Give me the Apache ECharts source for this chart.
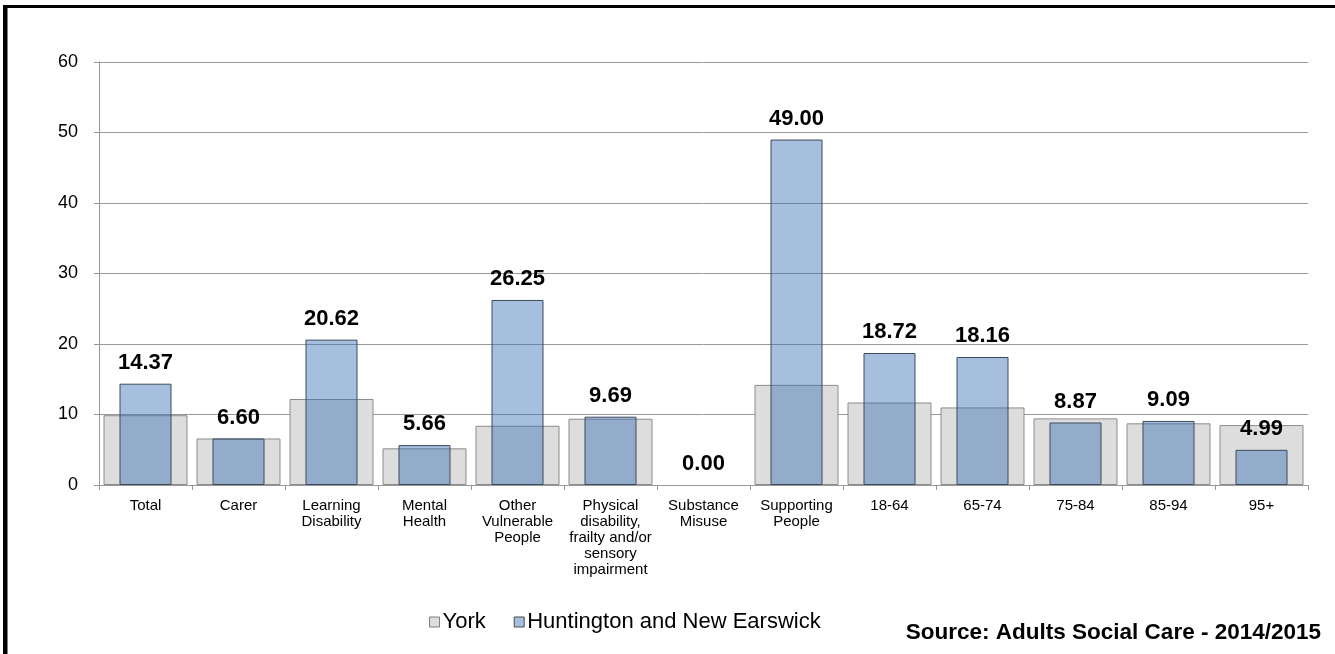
<!DOCTYPE html>
<html><head><meta charset="utf-8">
<script src="https://cdn.jsdelivr.net/npm/echarts@6/dist/echarts.min.js"></script>
<style>html,body{margin:0;padding:0;background:#fff}#c{width:1335px;height:654px}</style>
</head><body><div id="c"></div>
<script>
const categories = ['Total','Carer','Learning\nDisability','Mental\nHealth','Other\nVulnerable\nPeople','Physical\ndisability,\nfrailty and/or\nsensory\nimpairment','Substance\nMisuse','Supporting\nPeople','18-64','65-74','75-84','85-94','95+'];
const yorkValues = [9.9, 6.6, 12.2, 5.2, 8.4, 9.4, 0, 14.2, 11.7, 11.0, 9.45, 8.75, 8.5];
const huntValues = [14.37, 6.60, 20.62, 5.66, 26.25, 9.69, 0.00, 49.00, 18.72, 18.16, 8.87, 9.09, 4.99];
const yTicks = [0, 10, 20, 30, 40, 50, 60];
const seriesNames = ['York', 'Huntington and New Earswick'];
const sourceText = 'Source: Adults Social Care - 2014/2015';

const hideZero = v => v === 0 ? {value: v, itemStyle: {borderWidth: 0}} : v;

const chart = echarts.init(document.getElementById('c'));
const font = 'Liberation Sans, Arial, sans-serif';
chart.setOption({
  animation: false,
  textStyle: {fontFamily: font},
  grid: {left: 99, right: 27, top: 62, bottom: 169},
  legend: {
    left: 424, top: 606, itemWidth: 10, itemHeight: 10, itemGap: 28,
    data: [
      {name: seriesNames[0], icon: 'rect', itemStyle: {color: '#dddddd', borderColor: '#7f7f7f', borderWidth: 1}},
      {name: seriesNames[1], icon: 'rect', itemStyle: {color: '#a7bfdf', borderColor: '#4a4a4a', borderWidth: 1}}
    ],
    textStyle: {fontSize: 22, color: '#000', fontFamily: font, padding: [0,0,0,-2]}
  },
  graphic: [
    {type: 'rect', shape: {x: 3, y: 5, width: 1332, height: 3}, style: {fill: '#000'}},
    {type: 'rect', shape: {x: 3, y: 5, width: 4.5, height: 649}, style: {fill: '#000'}},
    {type: 'text', right: 14, top: 621, style: {text: sourceText, font: 'bold 22.5px ' + font, fill: '#000'}}
  ],
  xAxis: [
    {type: 'category', data: categories,
     axisLine: {lineStyle: {color: '#999', width: 1}},
     axisTick: {show: true, length: 5, lineStyle: {color: '#999'}},
     axisLabel: {interval: 0, fontSize: 15, lineHeight: 16, color: '#000', margin: 13, fontFamily: font}},
    {type: 'category', data: categories, show: false}
  ],
  yAxis: {
    type: 'value', min: yTicks[0], max: yTicks[yTicks.length-1], interval: 10,
    axisLine: {show: true, lineStyle: {color: '#999'}},
    axisTick: {show: true, length: 5, lineStyle: {color: '#999'}},
    splitLine: {lineStyle: {color: '#999', width: 1}},
    axisLabel: {fontSize: 18, color: '#000', margin: 21, fontFamily: font}
  },
  series: [
    {name: seriesNames[0], type: 'bar', xAxisIndex: 0, data: yorkValues.map(hideZero), barWidth: 84,
     itemStyle: {color: '#dddddd', borderColor: '#8c8c8c', borderWidth: 1}},
    {name: seriesNames[1], type: 'bar', xAxisIndex: 1, data: huntValues.map(hideZero), barWidth: 52,
     itemStyle: {color: 'rgba(55,110,182,0.44)', borderColor: '#3d4a5a', borderWidth: 1},
     label: {show: true, position: 'top', distance: 10, formatter: p => p.value.toFixed(2),
             fontSize: 22, fontWeight: 'bold', color: '#000', fontFamily: font}}
  ]
});
</script></body></html>
